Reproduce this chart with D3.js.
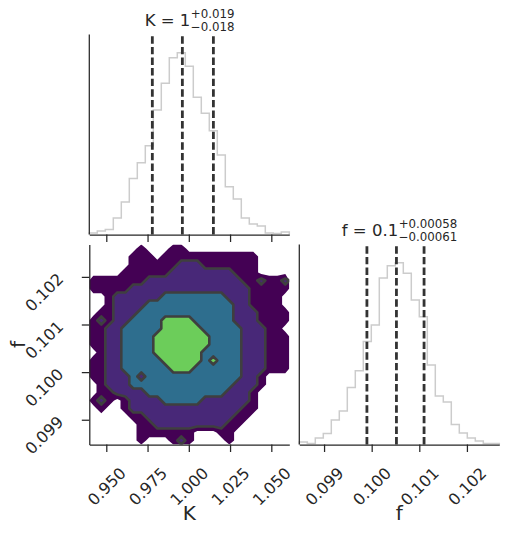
<!DOCTYPE html>
<html>
<head>
<meta charset="utf-8">
<script src="https://cdnjs.cloudflare.com/ajax/libs/d3/7.8.5/d3.min.js"></script>
<style>
  html, body { margin: 0; padding: 0; background: #fff; }
  svg text { font-family: "DejaVu Sans", sans-serif; fill: #262626; }
</style>
</head>
<body>
<svg id="vis" width="509" height="534"></svg>
<script>
// ---- data ----
var kTicks = [0.950, 0.975, 1.000, 1.025, 1.050];
var fTicks = [0.099, 0.100, 0.101, 0.102];
var kRange = [0.9397, 1.0609];
var fRange = [0.09848, 0.10268];

// 1d histograms, 25 bins over the axis range
var kCounts = [8, 18, 25, 83, 162, 280, 358, 443, 622, 755, 883, 908, 840,
               685, 605, 518, 397, 238, 177, 83, 52, 43, 8, 5, 12];
var fCounts = [13, 5, 33, 55, 122, 167, 285, 368, 515, 597, 832, 893, 908,
               855, 722, 638, 397, 242, 212, 100, 58, 33, 18, 5, 5];

// 16/50/84 % quantiles
var kQuant = [0.9779, 0.9961, 1.0149];
var fQuant = [0.09990, 0.10052, 0.10110];

// 2d density level per bin (0 empty .. 4 densest), 25 x 25, first row = highest f
var densityRows = [
  "0000001000110000000000000",
  "0000011101111111111110000",
  "0000011111122211111110000",
  "0000111111222222221110000",
  "1111111222222222222112112",
  "1111122222222222222211111",
  "0012222223333333322211110",
  "0012222333333333332211110",
  "0112223333333333332221111",
  "1212233334444333332221111",
  "1122333334444433333222110",
  "1122333344444443333222111",
  "1122333344444443333222111",
  "0122333344444433333222111",
  "1122333334444434333222111",
  "1122333333444333333222111",
  "1122232333333333333221000",
  "0122233333333333332221000",
  "0112222333333333322210000",
  "1210122223333322222210000",
  "0100122222222222222110000",
  "0000011222222222221100000",
  "0000001122222222211000000",
  "0000001111111000110000000",
  "0000001000121000010000000"
];
var levelCuts = [0.4, 1.5, 2.5, 3.5];
var levelColors = ["#440154", "#482878", "#2e6e8e", "#6ccd5a"];

// ---- layout ----
var svg = d3.select("#vis");
var size = 200;
var left0 = 89.3, left1 = 299.3, top0 = 34.5, top1 = 244.5;
var ink = "#262626";

var kx = d3.scaleLinear().domain(kRange).range([left0, left0 + size]);
var fx = d3.scaleLinear().domain(fRange).range([left1, left1 + size]);
var fy = d3.scaleLinear().domain(fRange).range([top1 + size, top1]);

function styleAxis(g){
    g.selectAll(".domain").attr("stroke", ink).attr("stroke-width", 1.25);
    g.selectAll(".tick line").attr("stroke", ink).attr("stroke-width", 1.25);
    g.selectAll("text").style("font-size", "16px").attr("fill", ink);
}

function histogram(counts, range, xs, y0, quant){
    var n = counts.length;
    var edges = d3.range(n + 1).map(i => range[0] + i * (range[1] - range[0]) / n);
    var hy = d3.scaleLinear().domain([0, 1.1 * d3.max(counts)]).range([y0 + size, y0]);
    var p = d3.path();
    p.moveTo(xs(edges[0]), hy(0));
    counts.forEach(function(c, i){
        p.lineTo(xs(edges[i]), hy(c));
        p.lineTo(xs(edges[i + 1]), hy(c));
    });
    p.lineTo(xs(edges[n]), hy(0));
    svg.append("path").attr("d", p.toString())
        .attr("fill", "none").attr("stroke", "#cccccc").attr("stroke-width", 1.5);

    quant.forEach(function(q){
        svg.append("line")
            .attr("x1", xs(q)).attr("x2", xs(q))
            .attr("y1", y0 + size).attr("y2", y0)
            .attr("stroke", "#333").attr("stroke-width", 2.8)
            .attr("stroke-dasharray", "7.4,3.2");
    });
    // left spine
    svg.append("line").attr("x1", xs.range()[0]).attr("x2", xs.range()[0])
        .attr("y1", y0).attr("y2", y0 + size)
        .attr("stroke", ink).attr("stroke-width", 1.25);
}

function title(cx, baseline, main, up, down){
    var g = svg.append("g");
    var t0 = g.append("text").attr("y", baseline).style("font-size", "16.5px").text(main);
    var t1 = g.append("text").attr("y", baseline - 8).style("font-size", "11.8px").text(up);
    var t2 = g.append("text").attr("y", baseline + 4.7).style("font-size", "11.8px").text(down);
    var w0 = t0.node().getComputedTextLength();
    var w1 = Math.max(t1.node().getComputedTextLength(), t2.node().getComputedTextLength());
    var x = cx - (w0 + w1) / 2;
    t0.attr("x", x);
    t1.attr("x", x + w0 + 0.5);
    t2.attr("x", x + w0 + 0.5);
}

// ---- top: K histogram ----
histogram(kCounts, kRange, kx, top0, kQuant);
svg.append("g").attr("transform", "translate(0," + (top0 + size) + ")")
    .call(d3.axisBottom(kx).tickValues(kTicks).tickFormat("").tickSize(7.5).tickSizeOuter(0))
    .call(styleAxis);
title(left0 + size / 2, 26, "K = 1", "+0.019", "\u22120.018");

// ---- right: f histogram ----
histogram(fCounts, fRange, fx, top1, fQuant);
var fAxis = svg.append("g").attr("transform", "translate(0," + (top1 + size) + ")")
    .call(d3.axisBottom(fx).tickValues(fTicks).tickFormat(d3.format(".3f")).tickSize(7.5).tickSizeOuter(0))
    .call(styleAxis);
title(left1 + size / 2, 236, "f = 0.1", "+0.00058", "\u22120.00061");

// ---- bottom left: 2d contours ----
var grid = densityRows.flatMap(r => r.split("").map(Number));
var nx = densityRows[0].length, ny = densityRows.length;
var bands = d3.contours().size([nx, ny]).thresholds(levelCuts)(grid);
var toData = d3.geoTransform({
    point: function(gx, gy){
        this.stream.point(
            kx(kRange[0] + gx * (kRange[1] - kRange[0]) / nx),
            fy(fRange[1] - gy * (fRange[1] - fRange[0]) / ny));
    }
});
var path = d3.geoPath(toData);

svg.append("clipPath").attr("id", "clip2d")
    .append("rect").attr("x", left0).attr("y", top1).attr("width", size).attr("height", size);
var g2 = svg.append("g").attr("clip-path", "url(#clip2d)");
g2.selectAll("path.fill").data(bands).join("path")
    .attr("class", "fill")
    .attr("d", path)
    .attr("fill", (d, i) => levelColors[i]);
g2.selectAll("path.line").data(bands.slice(1)).join("path")
    .attr("class", "line")
    .attr("d", path)
    .attr("fill", "none")
    .attr("stroke", "#3f3f3f")
    .attr("stroke-width", 2.6)
    .attr("stroke-linejoin", "round");

var kAxis = svg.append("g").attr("transform", "translate(0," + (top1 + size) + ")")
    .call(d3.axisBottom(kx).tickValues(kTicks).tickFormat(d3.format(".3f")).tickSize(7.5).tickSizeOuter(0))
    .call(styleAxis);
var yAxis = svg.append("g").attr("transform", "translate(" + left0 + ",0)")
    .call(d3.axisLeft(fy).tickValues(fTicks).tickFormat(d3.format(".3f")).tickSize(7.5).tickSizeOuter(0))
    .call(styleAxis);

// rotated tick labels
[kAxis, fAxis].forEach(function(a){
    a.selectAll(".tick text")
        .attr("y", null).attr("dy", null)
        .attr("text-anchor", "middle")
        .attr("dominant-baseline", "central")
        .attr("transform", "translate(0,42) rotate(-45)");
});
yAxis.selectAll(".tick text")
    .attr("x", null).attr("dy", null)
    .attr("text-anchor", "middle")
    .attr("dominant-baseline", "central")
    .attr("transform", "translate(-45,15) rotate(-45)");

// axis labels
svg.append("text").attr("x", left0 + size / 2).attr("y", 520)
    .attr("text-anchor", "middle").style("font-size", "20px").text("K");
svg.append("text").attr("x", left1 + size / 2).attr("y", 520)
    .attr("text-anchor", "middle").style("font-size", "20px").text("f");
svg.append("text").attr("transform", "translate(25," + (top1 + size / 2) + ") rotate(-90)")
    .attr("text-anchor", "middle").style("font-size", "20px").text("f");
</script>
</body>
</html>
